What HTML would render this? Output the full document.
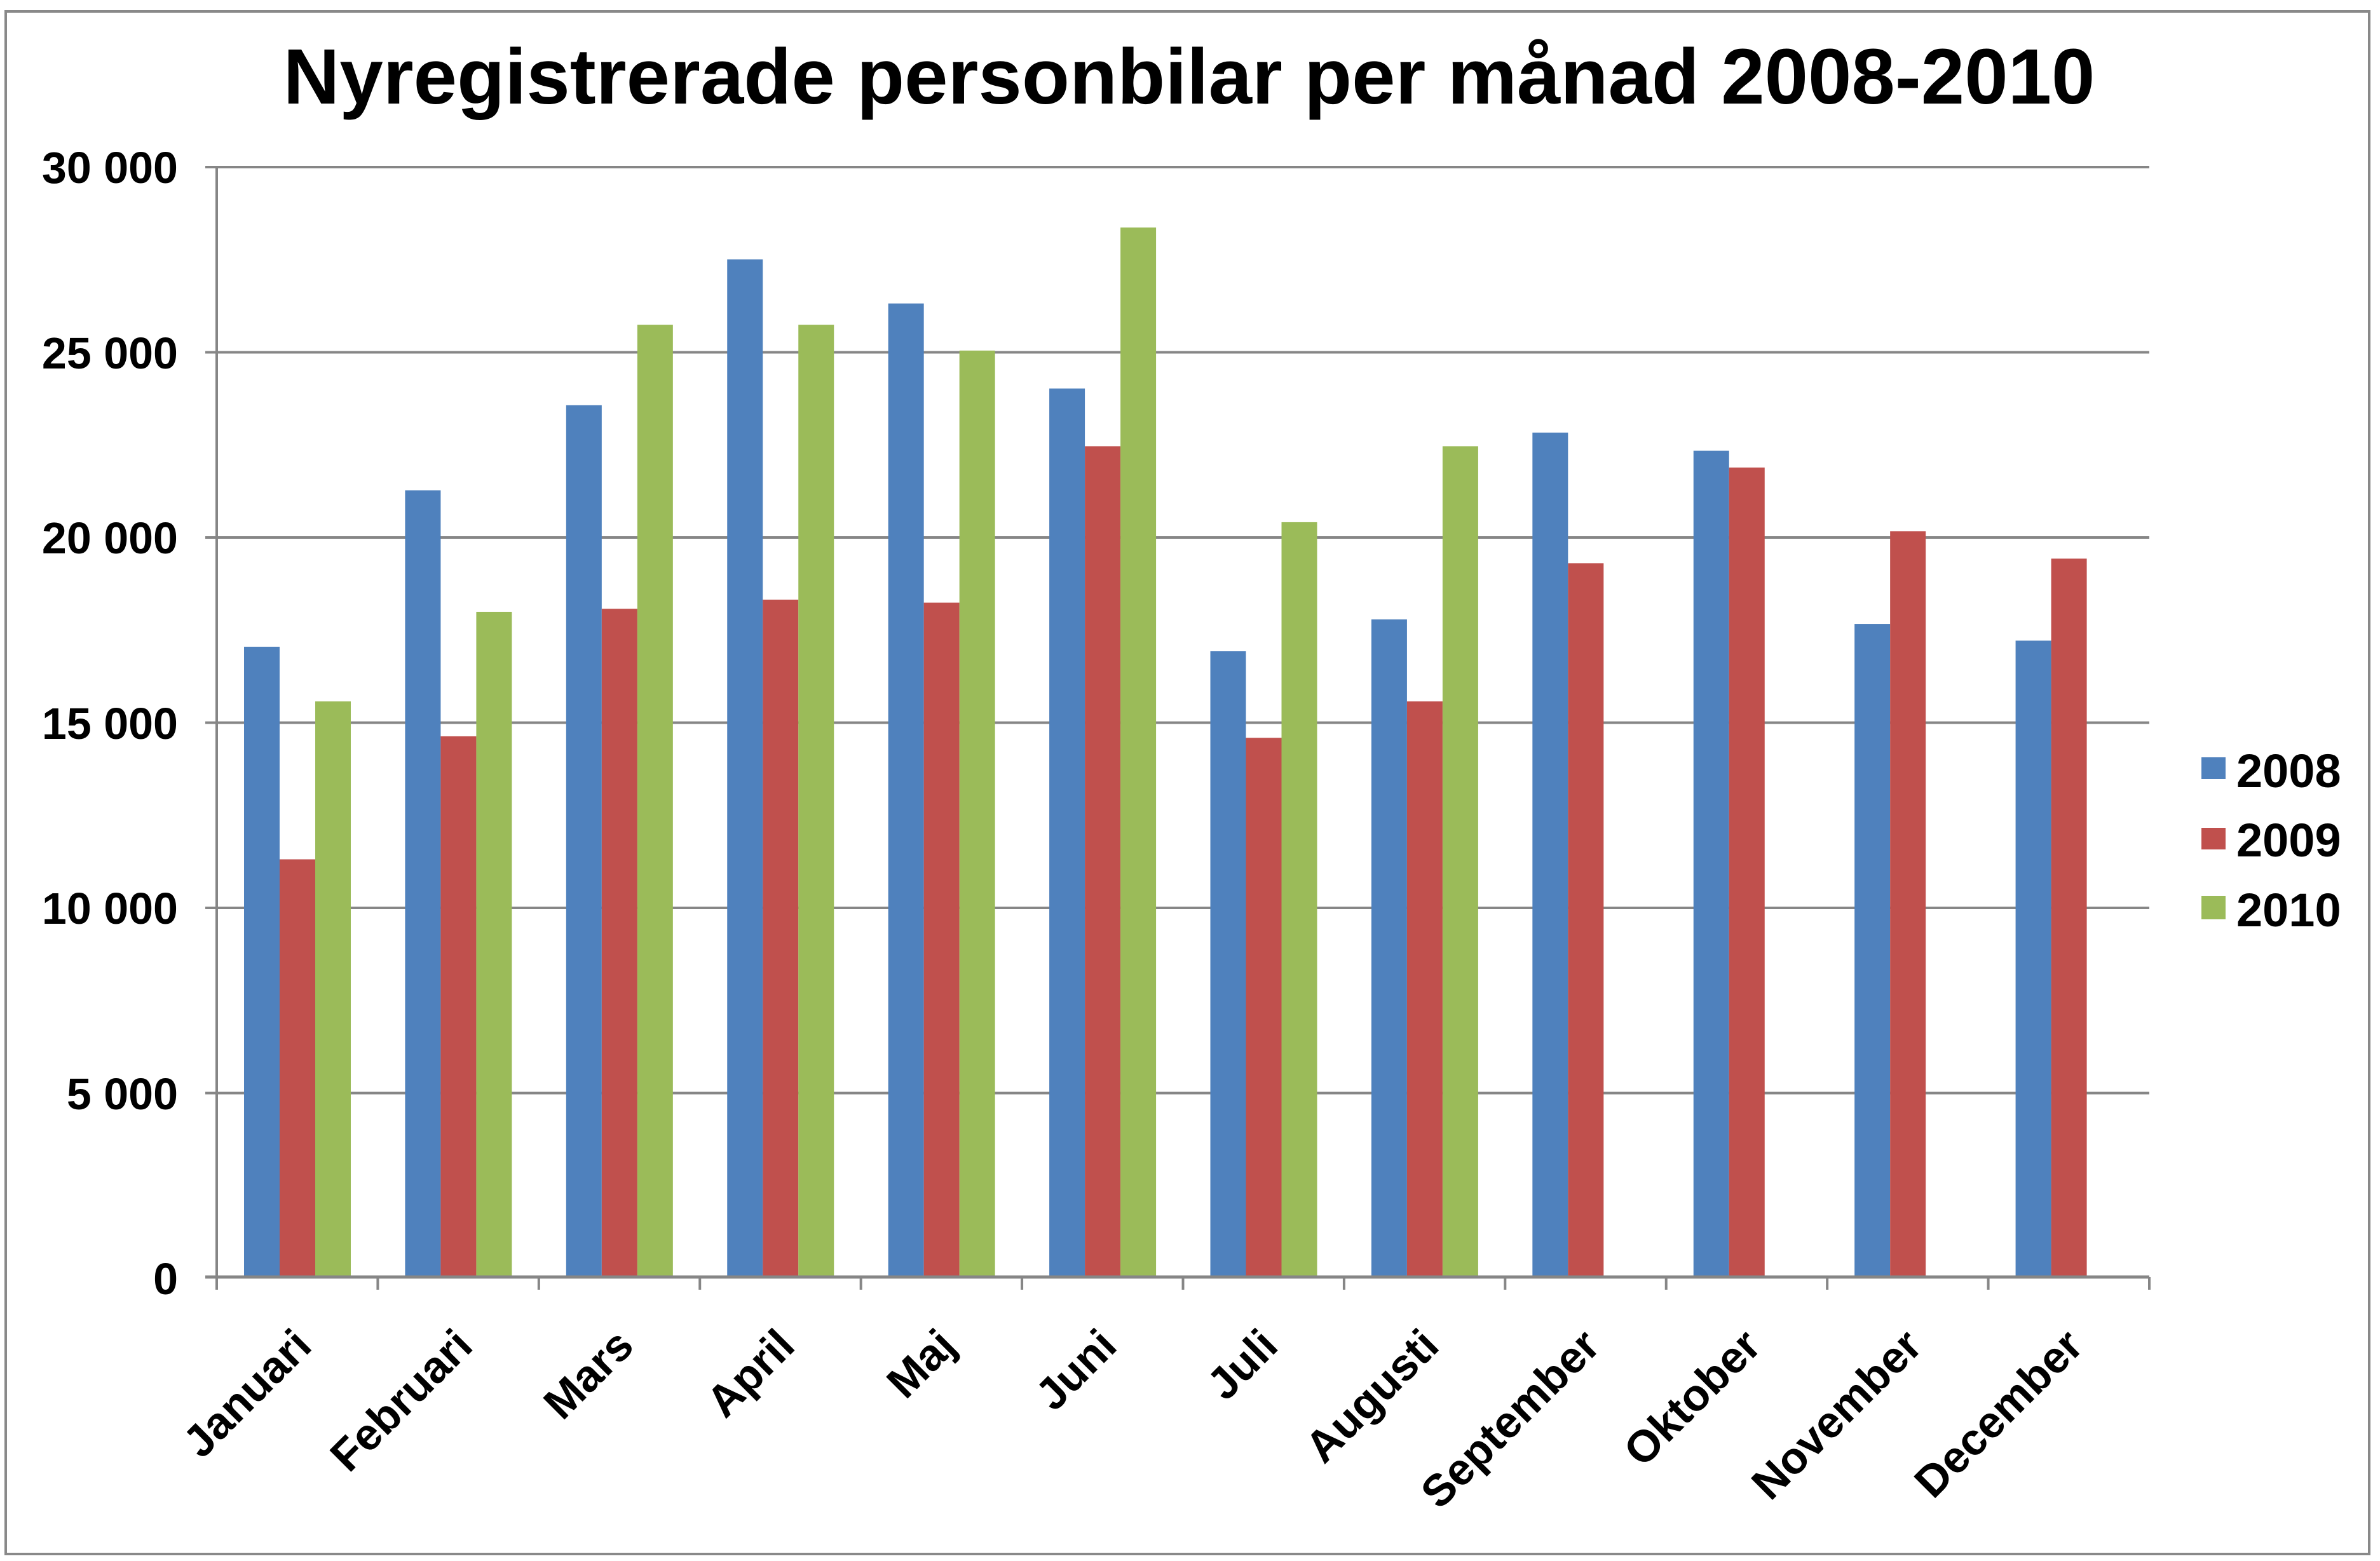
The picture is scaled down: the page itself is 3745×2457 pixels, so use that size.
<!DOCTYPE html>
<html><head><meta charset="utf-8"><style>
html,body{margin:0;padding:0;background:#fff}
svg{display:block}
text{font-family:"Liberation Sans",Arial,sans-serif;font-weight:bold;fill:#000}
</style></head><body>
<svg width="3745" height="2457" viewBox="0 0 3745 2457" xmlns="http://www.w3.org/2000/svg">
<rect x="0" y="0" width="3745" height="2457" fill="#fff"/>
<rect x="9" y="18" width="3719" height="2428" fill="none" stroke="#898989" stroke-width="4"/>
<text x="1871" y="163" font-size="123" text-anchor="middle">Nyregistrerade personbilar per månad 2008-2010</text>
<g id="grid" stroke="#868686" stroke-width="4">
<line x1="323" y1="263" x2="3382" y2="263"/>
<line x1="323" y1="554.5" x2="3382" y2="554.5"/>
<line x1="323" y1="846" x2="3382" y2="846"/>
<line x1="323" y1="1137.5" x2="3382" y2="1137.5"/>
<line x1="323" y1="1429" x2="3382" y2="1429"/>
<line x1="323" y1="1720.5" x2="3382" y2="1720.5"/>
<line x1="341" y1="263" x2="341" y2="2030"/>
</g>
<g font-size="70" text-anchor="end">
<text x="280" y="288">30 000</text>
<text x="280" y="580">25 000</text>
<text x="280" y="871">20 000</text>
<text x="280" y="1163">15 000</text>
<text x="280" y="1454">10 000</text>
<text x="280" y="1746">5 000</text>
<text x="280" y="2037">0</text>
</g>
<g id="bars"></g>
<line x1="323" y1="2010" x2="3382" y2="2010" stroke="#868686" stroke-width="5"/>
<g id="ticks" stroke="#868686" stroke-width="4"></g>
<g id="labels" font-size="70" text-anchor="end"></g>
<rect x="3464" y="1192" width="38" height="34" fill="#4F81BD"/>
<rect x="3464" y="1303" width="38" height="34" fill="#C0504D"/>
<rect x="3464" y="1410" width="38" height="37" fill="#9BBB59"/>
<g font-size="74">
<text x="3519" y="1239">2008</text>
<text x="3519" y="1348">2009</text>
<text x="3519" y="1458">2010</text>
</g>
<script>
var d=[[17036,11290,15558],[21264,14614,17980],[23563,18062,25739],[27504,18309,25739],[26314,18227,25041],[24015,22455,28366],[16913,14573,20402],[17775,15558,22455],[22824,19294,0],[22332,21880,0],[17652,20156,0],[17200,19417,0]];
var m=["Januari","Februari","Mars","April","Maj","Juni","Juli","Augusti","September","Oktober","November","December"];
var c=["#4F81BD","#C0504D","#9BBB59"];
var x0=341,w=(3382-341)/12,y0=2010,s=(2010-263)/30000,ns="http://www.w3.org/2000/svg";
var B=document.getElementById("bars"),T=document.getElementById("ticks"),L=document.getElementById("labels");
for(var i=0;i<12;i++){var cx=x0+i*w;
for(var j=0;j<3;j++){if(!d[i][j])continue;var r=document.createElementNS(ns,"rect");var h=d[i][j]*s;
r.setAttribute("x",cx+43+j*56);r.setAttribute("width",56);r.setAttribute("y",y0-h);r.setAttribute("height",h);r.setAttribute("fill",c[j]);B.appendChild(r);}
var t=document.createElementNS(ns,"text");var ax=cx+w/2+26,ay=2122;t.setAttribute("x",ax);t.setAttribute("y",ay);t.setAttribute("transform","rotate(-45 "+ax+" "+ay+")");t.textContent=m[i];L.appendChild(t);}
for(var i=0;i<=12;i++){var l=document.createElementNS(ns,"line");var xx=x0+i*w;l.setAttribute("x1",xx);l.setAttribute("x2",xx);l.setAttribute("y1",2010);l.setAttribute("y2",2030);T.appendChild(l);}
</script>
</svg>
</body></html>
